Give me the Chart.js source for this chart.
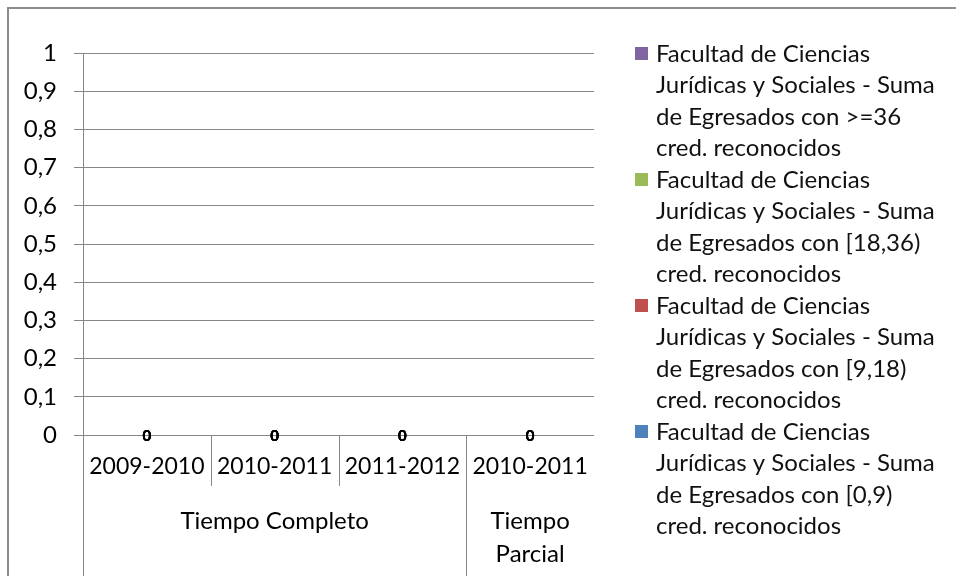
<!DOCTYPE html>
<html>
<head>
<meta charset="utf-8">
<script src="https://cdn.jsdelivr.net/npm/chart.js@4/dist/chart.umd.min.js"></script>
<style>
  html, body { margin: 0; padding: 0; background: #fff; }
  #wrap { width: 956px; height: 576px; position: relative; }
</style>
</head>
<body>
<div id="wrap"><canvas id="c" width="956" height="576"></canvas></div>
<script>
// ---- data ----
const categories = ['2009-2010', '2010-2011', '2011-2012', '2010-2011'];
const groupLabels = [['Tiempo Completo'], ['Tiempo', 'Parcial']];
const groupSpans = [[0, 2], [3, 3]];
const seriesLabels = [
  'Facultad de Ciencias Jurídicas y Sociales - Suma de Egresados con [0,9) cred. reconocidos',
  'Facultad de Ciencias Jurídicas y Sociales - Suma de Egresados con [9,18) cred. reconocidos',
  'Facultad de Ciencias Jurídicas y Sociales - Suma de Egresados con [18,36) cred. reconocidos',
  'Facultad de Ciencias Jurídicas y Sociales - Suma de Egresados con >=36 cred. reconocidos'
];
const values_0_9   = [0, 0, 0, 0];
const values_9_18  = [0, 0, 0, 0];
const values_18_36 = [0, 0, 0, 0];
const values_36    = [0, 0, 0, 0];
const yMin = 0, yMax = 1, yStep = 0.1;

// ---- styles ----
const seriesColors = ['#4F81BD', '#C0504D', '#9BBB59', '#8064A2'];
const FONT = 'Lato, "Open Sans", sans-serif';
const GRID = '#878787';

const seriesValues = [values_0_9, values_9_18, values_18_36, values_36];

const frame = {
  id: 'frame',
  beforeDraw(chart) {
    const ctx = chart.ctx;
    ctx.save();
    ctx.fillStyle = '#fff';
    ctx.fillRect(0, 0, chart.width, chart.height);
    ctx.strokeStyle = '#8c8c8c';
    ctx.lineWidth = 2;
    ctx.beginPath();
    ctx.moveTo(8, chart.height);
    ctx.lineTo(8, 8);
    ctx.lineTo(chart.width, 8);
    ctx.stroke();
    ctx.restore();
  }
};

const catAxisExtras = {
  id: 'catAxisExtras',
  afterDraw(chart) {
    const ctx = chart.ctx;
    const xs = chart.scales.x;
    const area = chart.chartArea;
    const n = categories.length;
    const edge = i => {
      if (i <= 0) return area.left;
      if (i >= n) return area.right;
      return (xs.getPixelForValue(i - 1) + xs.getPixelForValue(i)) / 2;
    };
    const groupStarts = new Set(groupSpans.map(s => s[0]));
    ctx.save();
    ctx.strokeStyle = GRID;
    ctx.lineWidth = 1;
    for (let i = 0; i < n; i++) {
      const x = Math.round(edge(i)) + 0.5;
      const long = groupStarts.has(i);
      ctx.beginPath();
      ctx.moveTo(x, area.bottom);
      ctx.lineTo(x, long ? chart.height : area.bottom + 51);
      ctx.stroke();
    }
    ctx.fillStyle = '#000';
    ctx.font = '24px ' + FONT;
    ctx.textAlign = 'center';
    ctx.textBaseline = 'middle';
    groupSpans.forEach((s, gi) => {
      const cx = (edge(s[0]) + edge(s[1] + 1)) / 2;
      groupLabels[gi].forEach((line, li) => {
        ctx.fillText(line, cx, area.bottom + 86 + li * 33);
      });
    });
    ctx.restore();
  }
};

const dataLabels = {
  id: 'dataLabels',
  afterDatasetsDraw(chart) {
    const ctx = chart.ctx;
    ctx.save();
    ctx.fillStyle = '#000';
    ctx.font = 'bold 15px ' + FONT;
    ctx.textAlign = 'center';
    ctx.textBaseline = 'middle';
    chart.data.datasets.forEach((ds, di) => {
      const meta = chart.getDatasetMeta(di);
      meta.data.forEach((el, i) => {
        ctx.fillText(String(ds.data[i]).replace('.', ','), el.x, el.y + 1);
      });
    });
    ctx.restore();
  }
};

function wrapText(ctx, text, maxW) {
  const words = text.split(' ');
  const lines = [];
  let cur = '';
  words.forEach(w => {
    const t = cur ? cur + ' ' + w : w;
    if (ctx.measureText(t).width > maxW && cur) { lines.push(cur); cur = w; }
    else cur = t;
  });
  if (cur) lines.push(cur);
  return lines;
}

const sideLegend = {
  id: 'sideLegend',
  afterDraw(chart) {
    const ctx = chart.ctx;
    ctx.save();
    ctx.font = '24px ' + FONT;
    ctx.textBaseline = 'middle';
    ctx.textAlign = 'left';
    const order = chart.data.datasets.map((d, i) => i).reverse();
    let y = 54;
    const lh = 31.5;
    order.forEach(di => {
      const ds = chart.data.datasets[di];
      ctx.fillStyle = ds.backgroundColor;
      ctx.fillRect(635, y - 7, 13, 13);
      ctx.fillStyle = '#111';
      const lines = wrapText(ctx, ds.label, 286);
      lines.forEach((l, li) => ctx.fillText(l, 656, y + li * lh));
      y += lines.length * lh;
    });
    ctx.restore();
  }
};

new Chart(document.getElementById('c'), {
  type: 'bar',
  data: {
    labels: categories,
    datasets: seriesValues.map((vals, i) => ({
      label: seriesLabels[i],
      data: vals,
      backgroundColor: seriesColors[i],
      borderWidth: 0
    }))
  },
  options: {
    responsive: false,
    animation: false,
    devicePixelRatio: 1,
    layout: { padding: { left: 0, top: 53, right: 362, bottom: 0 } },
    plugins: { legend: { display: false }, tooltip: { enabled: false } },
    scales: {
      x: {
        stacked: true,
        grid: { display: false, drawTicks: false },
        border: { display: false },
        ticks: { color: '#000', font: { family: FONT, size: 23 }, padding: 18, maxRotation: 0, autoSkip: false },
        afterFit(scale) { scale.height = 141; }
      },
      y: {
        stacked: true,
        min: yMin, max: yMax,
        grid: { color: GRID, tickLength: 9, drawTicks: true },
        border: { display: true, color: GRID },
        ticks: {
          stepSize: yStep,
          color: '#000',
          padding: 17,
          font: { family: FONT, size: 24 },
          callback: v => (Math.round(v * 10) / 10).toString().replace('.', ',')
        },
        afterFit(scale) { scale.width = 83; }
      }
    }
  },
  plugins: [frame, catAxisExtras, dataLabels, sideLegend]
});
</script>
</body>
</html>
